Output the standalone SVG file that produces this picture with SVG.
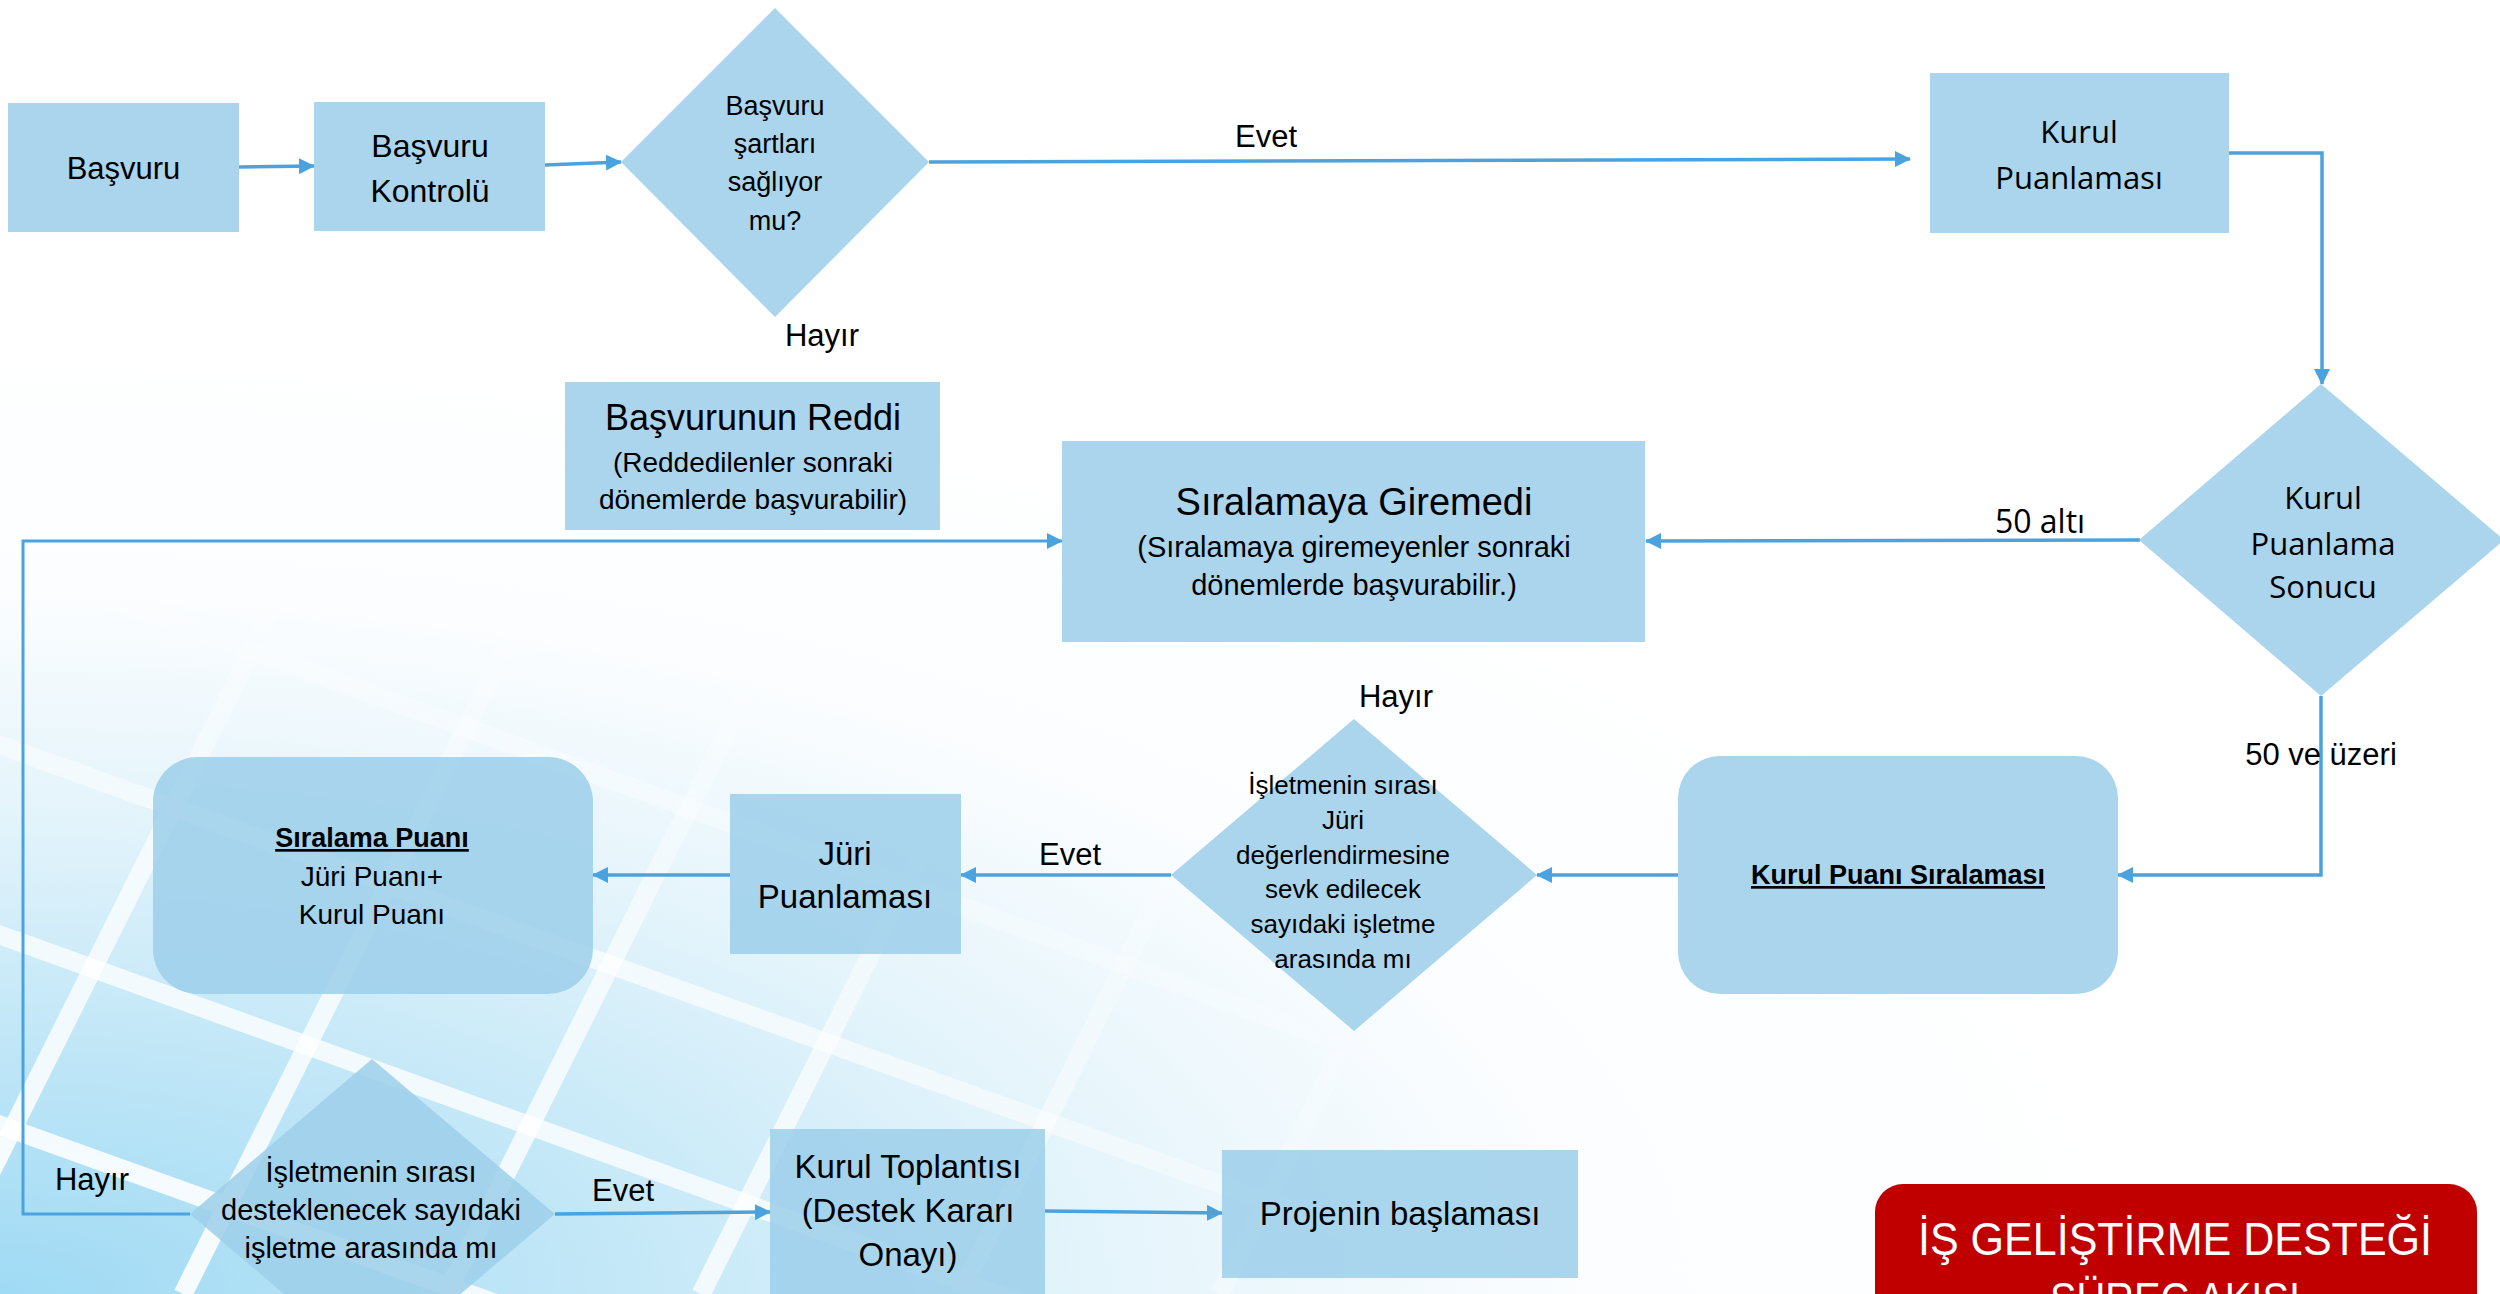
<svg xmlns="http://www.w3.org/2000/svg" width="2500" height="1294" viewBox="0 0 2500 1294">
<style>
.box{fill:#9ecfeb;fill-opacity:0.88}
.t{font-family:"Liberation Sans",Arial,sans-serif;fill:#000;text-anchor:middle}
.o{font-family:"Open Sans","Noto Sans",sans-serif;fill:#000;text-anchor:middle}
.lbl{font-family:"Liberation Sans",Arial,sans-serif;fill:#000;text-anchor:middle;font-size:31px}
.c{fill:none;stroke:#4aa3df;stroke-width:3.5}
.u{font-weight:bold;text-decoration:underline}
.ttl{font-family:"Liberation Sans",Arial,sans-serif;fill:#fff;text-anchor:middle;font-size:46px}
</style>
<defs>
<radialGradient id="bg" cx="0" cy="0" r="2200" gradientUnits="userSpaceOnUse" gradientTransform="translate(0,1294) scale(1,0.44)">
<stop offset="0" stop-color="#9fdaf4"/>
<stop offset="0.25" stop-color="#bfe6f7"/>
<stop offset="0.5" stop-color="#e4f4fb"/>
<stop offset="0.72" stop-color="#fbfdff"/>
<stop offset="1" stop-color="#ffffff"/>
</radialGradient>
<radialGradient id="lg" cx="0" cy="0" r="1800" gradientUnits="userSpaceOnUse" gradientTransform="translate(0,1294) scale(1,0.48)">
<stop offset="0" stop-color="#ffffff" stop-opacity="0.95"/>
<stop offset="0.5" stop-color="#ffffff" stop-opacity="0.7"/>
<stop offset="0.85" stop-color="#ffffff" stop-opacity="0"/>
</radialGradient>
<marker id="ah" viewBox="0 0 16 16" markerWidth="16" markerHeight="16" refX="15" refY="8" orient="auto" markerUnits="userSpaceOnUse">
<path d="M0,0 L16,8 L0,16 z" fill="#4aa3df"/>
</marker>
</defs>

<g id="background">
<rect x="0" y="0" width="2500" height="1294" fill="url(#bg)"/>
<g stroke="url(#lg)" stroke-width="19" fill="none">
<line x1="-50" y1="542" x2="1800" y2="1208"/>
<line x1="-50" y1="727" x2="1500" y2="1285"/>
<line x1="-50" y1="917" x2="1100" y2="1331"/>
<line x1="-50" y1="1107" x2="600" y2="1341"/>
<line x1="-50" y1="360" x2="2100" y2="1134"/>
<line x1="-70" y1="1294" x2="320" y2="514"/>
<line x1="183" y1="1294" x2="600" y2="460"/>
<line x1="446" y1="1294" x2="880" y2="426"/>
<line x1="701" y1="1294" x2="1140" y2="416"/>
<line x1="960" y1="1294" x2="1400" y2="414"/>
<line x1="1220" y1="1294" x2="1640" y2="454"/>
</g>
</g>

<g id="connectors">
<line class="c" x1="239" y1="167" x2="314" y2="166" marker-end="url(#ah)"/>
<line class="c" x1="545" y1="165" x2="621" y2="162" marker-end="url(#ah)"/>
<line class="c" x1="929" y1="162" x2="1910" y2="159" marker-end="url(#ah)"/>
<polyline class="c" points="2229,153 2322,153 2322,384" marker-end="url(#ah)"/>
<line class="c" x1="2140" y1="540" x2="1646" y2="541" marker-end="url(#ah)"/>
<polyline class="c" points="2321,696 2321,875 2118,875" marker-end="url(#ah)"/>
<line class="c" x1="1678" y1="875" x2="1537" y2="875" marker-end="url(#ah)"/>
<line class="c" x1="1171" y1="875" x2="961" y2="875" marker-end="url(#ah)"/>
<line class="c" x1="730" y1="875" x2="593" y2="875" marker-end="url(#ah)"/>
<polyline class="c" style="stroke-width:3" points="190,1214 23,1214 23,541 1062,541" marker-end="url(#ah)"/>
<line class="c" x1="555" y1="1214" x2="770" y2="1212" marker-end="url(#ah)"/>
<line class="c" x1="1045" y1="1211" x2="1222" y2="1213" marker-end="url(#ah)"/>
</g>

<g id="labels">
<text class="lbl" x="1266" y="147">Evet</text>
<text class="lbl" x="822" y="346">Hayır</text>
<text class="o" x="2040" y="533" font-size="32">50 altı</text>
<text class="lbl" x="2321" y="765" font-size="32">50 ve üzeri</text>
<text class="lbl" x="1396" y="707">Hayır</text>
<text class="lbl" x="1070" y="865">Evet</text>
<text class="lbl" x="623" y="1201">Evet</text>
<text class="lbl" x="92" y="1190">Hayır</text>
</g>

<g id="n-basvuru">
<rect class="box" x="8" y="103" width="231" height="129"/>
<text class="t" x="123.5" y="179" font-size="31">Başvuru</text>
</g>
<g id="n-kontrol">
<rect class="box" x="314" y="102" width="231" height="129"/>
<text class="t" x="430" y="157" font-size="32">Başvuru</text>
<text class="t" x="430" y="202" font-size="32">Kontrolü</text>
</g>
<g id="n-sart">
<polygon class="box" points="775,8 929,162 775,317 621,162"/>
<text class="t" x="775" y="115" font-size="27">Başvuru</text>
<text class="t" x="775" y="153" font-size="27">şartları</text>
<text class="t" x="775" y="191" font-size="27">sağlıyor</text>
<text class="t" x="775" y="230" font-size="27">mu?</text>
</g>
<g id="n-kurul-puanlamasi">
<rect class="box" x="1930" y="73" width="299" height="160"/>
<text class="o" x="2079" y="143" font-size="31">Kurul</text>
<text class="o" x="2079" y="189" font-size="31">Puanlaması</text>
</g>
<g id="n-kurul-sonuc">
<polygon class="box" points="2321,384 2504,540 2321,696 2139,540"/>
<text class="o" x="2323" y="509" font-size="31">Kurul</text>
<text class="o" x="2323" y="555" font-size="31">Puanlama</text>
<text class="o" x="2323" y="598" font-size="31">Sonucu</text>
</g>
<g id="n-red">
<rect class="box" x="565" y="382" width="375" height="148"/>
<text class="t" x="753" y="430" font-size="36">Başvurunun Reddi</text>
<text class="t" x="753" y="472" font-size="28">(Reddedilenler sonraki</text>
<text class="t" x="753" y="509" font-size="28">dönemlerde başvurabilir)</text>
</g>
<g id="n-giremedi">
<rect class="box" x="1062" y="441" width="583" height="201"/>
<text class="t" x="1354" y="515" font-size="38">Sıralamaya Giremedi</text>
<text class="t" x="1354" y="557" font-size="29">(Sıralamaya giremeyenler sonraki</text>
<text class="t" x="1354" y="595" font-size="29">dönemlerde başvurabilir.)</text>
</g>
<g id="n-kurul-siralama">
<rect class="box" x="1678" y="756" width="440" height="238" rx="42" ry="42"/>
<text class="t u" x="1898" y="884" font-size="27">Kurul Puanı Sıralaması</text>
</g>
<g id="n-juri-karar">
<polygon class="box" points="1354,719 1537,875 1354,1031 1171,875"/>
<text class="t" x="1343" y="794" font-size="26">İşletmenin sırası</text>
<text class="t" x="1343" y="829" font-size="26">Jüri</text>
<text class="t" x="1343" y="864" font-size="26">değerlendirmesine</text>
<text class="t" x="1343" y="898" font-size="26">sevk edilecek</text>
<text class="t" x="1343" y="933" font-size="26">sayıdaki işletme</text>
<text class="t" x="1343" y="968" font-size="26">arasında mı</text>
</g>
<g id="n-juri-puan">
<rect class="box" x="730" y="794" width="231" height="160"/>
<text class="t" x="845" y="865" font-size="33">Jüri</text>
<text class="t" x="845" y="908" font-size="33">Puanlaması</text>
</g>
<g id="n-siralama-puani">
<rect class="box" x="153" y="757" width="440" height="237" rx="45" ry="45"/>
<text class="t u" x="372" y="847" font-size="27">Sıralama Puanı</text>
<text class="t" x="372" y="886" font-size="28">Jüri Puanı+</text>
<text class="t" x="372" y="924" font-size="28">Kurul Puanı</text>
</g>
<g id="n-destek-karar">
<polygon class="box" points="372,1059 555,1214 372,1369 190,1214"/>
<text class="t" x="371" y="1182" font-size="29">İşletmenin sırası</text>
<text class="t" x="371" y="1220" font-size="29">desteklenecek sayıdaki</text>
<text class="t" x="371" y="1258" font-size="29">işletme arasında mı</text>
</g>
<g id="n-toplanti">
<rect class="box" x="770" y="1129" width="275" height="200"/>
<text class="t" x="908" y="1178" font-size="33">Kurul Toplantısı</text>
<text class="t" x="908" y="1222" font-size="33">(Destek Kararı</text>
<text class="t" x="908" y="1266" font-size="33">Onayı)</text>
</g>
<g id="n-proje">
<rect class="box" x="1222" y="1150" width="356" height="128"/>
<text class="t" x="1400" y="1225" font-size="33">Projenin başlaması</text>
</g>
<g id="n-title">
<rect x="1875" y="1184" width="602" height="200" rx="28" ry="28" fill="#c00000"/>
<text class="ttl" x="2175" y="1255" textLength="514" lengthAdjust="spacingAndGlyphs">İŞ GELİŞTİRME DESTEĞİ</text>
<text class="ttl" x="2175" y="1315" textLength="250" lengthAdjust="spacingAndGlyphs">SÜREÇ AKIŞI</text>
</g>
</svg>
